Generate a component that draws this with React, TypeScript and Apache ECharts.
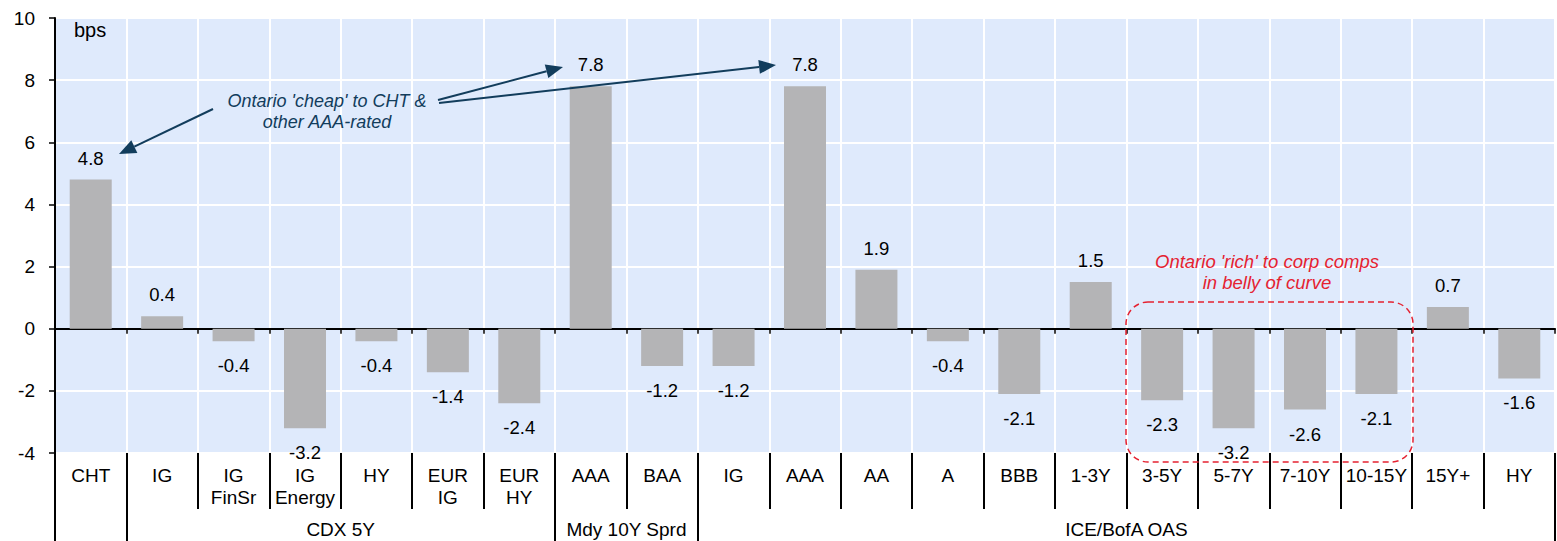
import React, { useEffect, useRef } from "react";
import * as echarts from "echarts";

// Spread differences (bps) per comparison bucket
const categories = [
  "CHT", "IG", "IG\nFinSr", "IG\nEnergy", "HY", "EUR\nIG", "EUR\nHY",
  "AAA", "BAA",
  "IG", "AAA", "AA", "A", "BBB", "1-3Y", "3-5Y", "5-7Y", "7-10Y", "10-15Y", "15Y+", "HY",
];
const values = [
  4.8, 0.4, -0.4, -3.2, -0.4, -1.4, -2.4,
  7.8, -1.2,
  -1.2, 7.8, 1.9, -0.4, -2.1, 1.5, -2.3, -3.2, -2.6, -2.1, 0.7, -1.6,
];
// Group boundaries (in category units) and the groups' names
const groupBounds = [0, 1, 7, 9, 21];
const groupNames = ["", "CDX 5Y", "Mdy 10Y Sprd", "ICE/BofA OAS"];
const yMin = -4;
const yMax = 10;
const yStep = 2;

const FONT = "'Liberation Sans', Arial, sans-serif";
const NAVY = "#123d5c";
const RED = "#e52231";

function arrow(x1: number, y1: number, x2: number, y2: number, color: string) {
  const dx = x2 - x1;
  const dy = y2 - y1;
  const len = Math.sqrt(dx * dx + dy * dy);
  const ux = dx / len;
  const uy = dy / len;
  const head = 17;
  const half = 7;
  const bx = x2 - ux * head;
  const by = y2 - uy * head;
  return [
    {
      type: "line",
      shape: { x1, y1, x2: bx, y2: by },
      style: { stroke: color, lineWidth: 2 },
      z: 100,
    },
    {
      type: "polygon",
      shape: {
        points: [
          [x2, y2],
          [bx - uy * half, by + ux * half],
          [bx + uy * half, by - ux * half],
        ],
      },
      style: { fill: color },
      z: 100,
    },
  ];
}

export default function App() {
  const ref = useRef<HTMLDivElement>(null);

  useEffect(() => {
    if (!ref.current) return;
    const chart = echarts.init(ref.current, undefined, { renderer: "svg" });

    const namedGroups = groupNames
      .map((name, i) => ({ name, center: (groupBounds[i] + groupBounds[i + 1]) / 2 }))
      .filter((g) => g.name !== "");
    const groupCenters = namedGroups.map((g) => g.center);

    const option: any = {
      animation: false,
      textStyle: { fontFamily: FONT },
      grid: {
        left: 55,
        right: 2,
        top: 18,
        bottom: 88,
        show: true,
        backgroundColor: "#dfeafc",
        borderWidth: 0,
      },
      xAxis: [
        {
          type: "category",
          data: categories,
          position: "bottom",
          axisLine: { onZero: true, lineStyle: { color: "#000", width: 2 } },
          axisTick: { show: true, length: 5, inside: false, lineStyle: { color: "#000", width: 1.5 } },
          axisLabel: { show: false },
          splitLine: { show: true, interval: 0, lineStyle: { color: "#ffffff", width: 2 } },
        },
        {
          type: "category",
          data: categories,
          position: "bottom",
          axisLine: { show: false, onZero: false },
          axisTick: { show: true, interval: 0, length: 56, lineStyle: { color: "#000", width: 2 } },
          axisLabel: {
            interval: 0,
            fontSize: 19,
            lineHeight: 22,
            color: "#000",
            margin: 11,
            fontFamily: FONT,
          },
          splitLine: { show: false },
        },
        {
          type: "value",
          min: groupBounds[0],
          max: groupBounds[groupBounds.length - 1],
          position: "bottom",
          axisLine: { show: false, onZero: false },
          axisTick: {
            show: true,
            length: 88,
            customValues: groupBounds,
            lineStyle: { color: "#000", width: 2 },
          },
          axisLabel: {
            show: true,
            customValues: groupCenters,
            formatter: (v: number) => {
              const g = namedGroups.find((n) => n.center === v);
              return g ? g.name : "";
            },
            fontSize: 19,
            color: "#000",
            margin: 67,
            fontFamily: FONT,
          },
          splitLine: { show: false },
        },
      ],
      yAxis: {
        type: "value",
        min: yMin,
        max: yMax,
        interval: yStep,
        axisLine: { show: true, onZero: false, lineStyle: { color: "#000", width: 2 } },
        axisTick: { show: true, length: 6, lineStyle: { color: "#000", width: 1.5 } },
        axisLabel: { fontSize: 19, color: "#000", margin: 20, fontFamily: FONT },
        splitLine: { show: true, lineStyle: { color: "#ffffff", width: 2 } },
      },
      series: [
        {
          type: "bar",
          xAxisIndex: 0,
          barWidth: 42,
          itemStyle: { color: "#b4b4b6" },
          data: values.map((v) => ({
            value: v,
            label: {
              show: true,
              position: v >= 0 ? "top" : "bottom",
              distance: v >= 0 ? 12 : 15,
              formatter: () => v.toFixed(1),
              fontSize: 18.5,
              color: "#000",
              fontFamily: FONT,
            },
          })),
        },
      ],
      graphic: [
        {
          type: "text",
          x: 74,
          y: 30,
          style: { text: "bps", font: `20px ${FONT}`, fill: "#000", textVerticalAlign: "middle" },
          z: 100,
        },
        {
          type: "text",
          x: 327,
          y: 111,
          style: {
            text: "Ontario 'cheap' to CHT &\nother AAA-rated",
            font: `italic 18px ${FONT}`,
            lineHeight: 21,
            fill: NAVY,
            textAlign: "center",
            textVerticalAlign: "middle",
          },
          z: 100,
        },
        ...arrow(213, 109, 119, 154, NAVY),
        ...arrow(438, 100, 563, 67, NAVY),
        ...arrow(439, 103, 776, 65, NAVY),
        {
          type: "text",
          x: 1267,
          y: 271.5,
          style: {
            text: "Ontario 'rich' to corp comps\nin belly of curve",
            font: `italic 18.5px ${FONT}`,
            lineHeight: 21,
            fill: RED,
            textAlign: "center",
            textVerticalAlign: "middle",
          },
          z: 100,
        },
        {
          type: "rect",
          shape: { x: 1126, y: 302, width: 287, height: 160, r: 22 },
          style: { fill: "none", stroke: RED, lineWidth: 1.5, lineDash: [6, 4] },
          z: 100,
        },
      ],
    };

    chart.setOption(option);
    return () => chart.dispose();
  }, []);

  return (
    <div
      ref={ref}
      style={{ position: "fixed", left: 0, top: 0, width: 1557, height: 541, background: "#ffffff" }}
    />
  );
}
